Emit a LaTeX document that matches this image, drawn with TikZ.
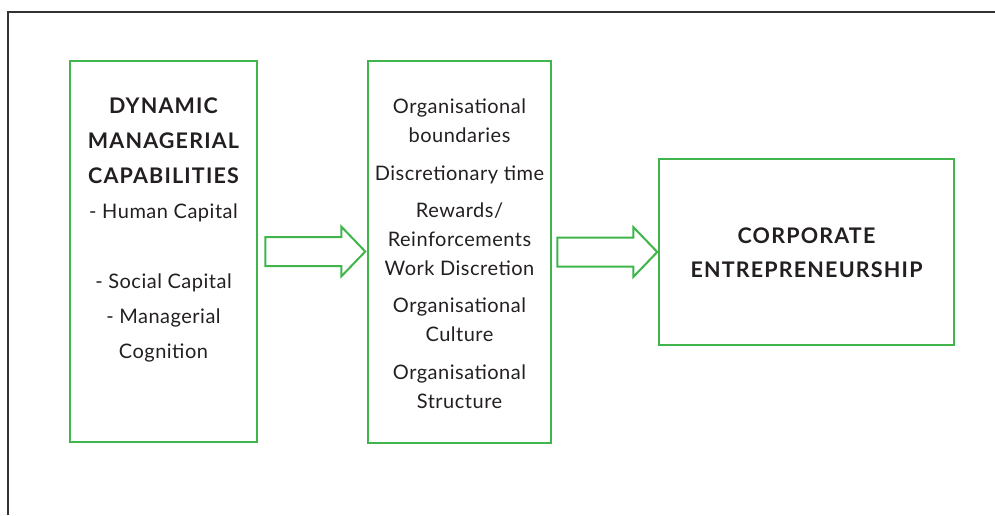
\documentclass[tikz,border=0pt]{standalone}
\usepackage{fontspec}
\setmainfont{Lato}
\usetikzlibrary{calc}
\definecolor{boxgreen}{HTML}{3FB54B}
\definecolor{txtc}{HTML}{231F20}
\definecolor{framec}{HTML}{333333}
\newcommand{\hd}{\fontsize{21.5}{35}\selectfont\bfseries\addfontfeatures{LetterSpace=5.5}}
\begin{document}
\begin{tikzpicture}[x=1pt,y=-1pt,
  box/.style={draw=boxgreen, line width=2.5pt, inner sep=0pt},
  hollow/.style={draw=boxgreen, line width=2pt, line join=miter},
  label/.style={text=txtc, align=center, inner sep=0pt},
  body/.style={label, font=\fontsize{20}{29}\selectfont\addfontfeatures{LetterSpace=2.5}},
  body1/.style={label, font=\fontsize{20}{35}\selectfont\addfontfeatures{LetterSpace=2.5}},
  head/.style={label, font=\hd\fontsize{21.5}{34}\selectfont}]
\useasboundingbox (0,0) rectangle (995,515);
% frame
\draw[framec, line width=2pt] (8,515) -- (8,12) -- (995,12);
% boxes
\node[box, minimum width=187pt, minimum height=381pt] (b1) at (163.5,251.5) {};
\node[box, minimum width=183pt, minimum height=382pt] (b2) at (459.5,252) {};
\node[box, minimum width=295pt, minimum height=186pt] (b3) at (806.5,252) {};
% texts
\node[body1] (t1) at (163.5,230) {{\hd DYNAMIC}\\{\hd MANAGERIAL}\\{\hd CAPABILITIES}\\- Human Capital\\[35pt]- Social Capital\\- Managerial\\Cognition};
\node[body] (t2) at (459.5,254) {Organisational\\boundaries\\[9pt]Discretionary time\\[8pt]Rewards/\\Reinforcements\\Work Discretion\\[8pt]Organisational\\Culture\\[9pt]Organisational\\Structure};
\node[head] (t3) at (806.5,253) {CORPORATE\\ENTREPRENEURSHIP};
% arrows
\coordinate (a1) at ($(b1.east)+(7,0)$);
\coordinate (a2) at ($(b2.east)+(5,0)$);
\foreach \s in {a1,a2}{
  \draw[hollow] (\s) ++(0,-14.5) -- ++(76,0) -- ++(0,-10.5) -- ++(24,25) -- ++(-24,25) -- ++(0,-10.5) -- ++(-76,0) -- cycle;
}
\end{tikzpicture}
\end{document}
